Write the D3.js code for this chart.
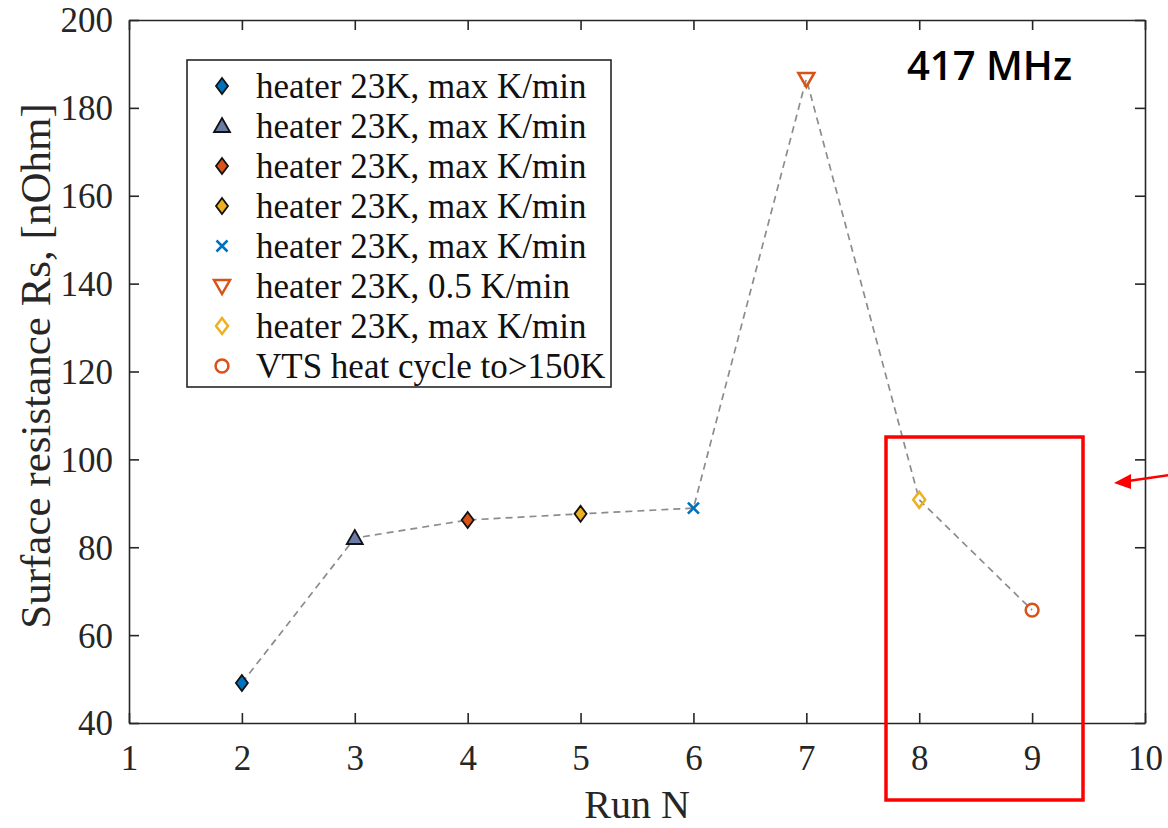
<!DOCTYPE html>
<html>
<head>
<meta charset="utf-8">
<script src="https://cdn.jsdelivr.net/npm/d3@7"></script>
<style>
  html, body { margin: 0; padding: 0; background: #fff; }
  svg { display: block; }
</style>
</head>
<body>
<svg id="chart" width="1168" height="828"></svg>
<script>
// Surface resistance per run
const runs = [2, 3, 4, 5, 6, 7, 8, 9];
const rs = [49.1, 82.1, 86.2, 87.6, 88.9, 186.6, 90.8, 65.7];
const labels = [
  "heater 23K, max K/min",
  "heater 23K, max K/min",
  "heater 23K, max K/min",
  "heater 23K, max K/min",
  "heater 23K, max K/min",
  "heater 23K, 0.5 K/min",
  "heater 23K, max K/min",
  "VTS heat cycle to>150K"
];
// marker style per run: shape, fill, stroke
const shapes = ["diamond", "triangle", "diamond", "diamond", "cross", "triangleDown", "diamond", "circle"];
const fills = ["#0072BD", "#6B7BA6", "#D95319", "#EDB120", "none", "none", "none", "none"];
const strokes = ["#111", "#111", "#111", "#111", "#0072BD", "#D95319", "#EDB120", "#D95319"];
const xTicks = [1, 2, 3, 4, 5, 6, 7, 8, 9, 10];
const yTicks = [40, 60, 80, 100, 120, 140, 160, 180, 200];

const svg = d3.select("#chart");
const L = 129, R = 1145, T = 20, B = 723;
const x = d3.scaleLinear().domain([1, 10]).range([L, R]);
const y = d3.scaleLinear().domain([40, 200]).range([B, T]);
const axisColor = "#262626";
const serif = "'Liberation Serif', 'DejaVu Serif', serif";

// axes with inward ticks on all four sides
const tickLen = 10;
const axBottom = svg.append("g").attr("transform", `translate(0,${B})`)
  .call(d3.axisBottom(x).tickValues(xTicks).tickSizeInner(-tickLen).tickSizeOuter(0).tickPadding(22).tickFormat(d3.format("d")));
const axTop = svg.append("g").attr("transform", `translate(0,${T})`)
  .call(d3.axisTop(x).tickValues(xTicks).tickSizeInner(-tickLen).tickSizeOuter(0).tickFormat(""));
const axLeft = svg.append("g").attr("transform", `translate(${L},0)`)
  .call(d3.axisLeft(y).tickValues(yTicks).tickSizeInner(-tickLen).tickSizeOuter(0).tickPadding(16).tickFormat(d3.format("d")));
const axRight = svg.append("g").attr("transform", `translate(${R},0)`)
  .call(d3.axisRight(y).tickValues(yTicks).tickSizeInner(-tickLen).tickSizeOuter(0).tickFormat(""));
[axBottom, axTop, axLeft, axRight].forEach(g => {
  g.select(".domain").attr("stroke", axisColor).attr("stroke-width", 1.6);
  g.selectAll(".tick line").attr("stroke", axisColor).attr("stroke-width", 1.6);
  g.selectAll(".tick text").attr("fill", "#262626").style("font-family", serif).style("font-size", "35px");
});
axBottom.selectAll(".tick text").attr("dy", "0.71em");
axLeft.selectAll(".tick text").attr("dy", "0.34em");

// axis titles
svg.append("text").attr("x", (L + R) / 2).attr("y", 818)
  .attr("text-anchor", "middle").attr("fill", "#262626")
  .style("font-family", serif).style("font-size", "40px").text("Run N");
svg.append("text").attr("transform", `translate(50,${366}) rotate(-90)`)
  .attr("text-anchor", "middle").attr("fill", "#262626")
  .style("font-family", serif).style("font-size", "43px").text("Surface resistance Rs, [nOhm]");

// dashed connecting line
const pts = runs.map((r, i) => [r, rs[i]]);
svg.append("path").datum(pts)
  .attr("d", d3.line().x(d => x(d[0])).y(d => y(d[1])))
  .attr("fill", "none").attr("stroke", "#8c8c8c").attr("stroke-width", 1.7)
  .attr("stroke-dasharray", "7,5");

// marker path generator
function markerPath(shape) {
  switch (shape) {
    case "diamond": return "M0,-8L6,0L0,8L-6,0Z";
    case "triangle": return "M0,-8L8,6L-8,6Z";
    case "triangleDown": return "M-8,-6L8,-6L0,8Z";
    case "cross": return "M-5.5,-5.5L5.5,5.5M5.5,-5.5L-5.5,5.5";
    case "circle": return d3.symbol(d3.symbolCircle, 130)();
  }
}
function drawMarker(g, i) {
  g.append("path").attr("d", markerPath(shapes[i]))
    .attr("fill", fills[i]).attr("stroke", strokes[i])
    .attr("stroke-width", shapes[i] === "cross" ? 2.6 : (fills[i] === "none" ? 2.5 : 1.8))
    .attr("stroke-linejoin", "miter");
}

runs.forEach((r, i) => {
  const g = svg.append("g").attr("transform", `translate(${x(r)},${y(rs[i])})`);
  drawMarker(g, i);
});

// legend
const lg = svg.append("g");
lg.append("rect").attr("x", 187).attr("y", 60).attr("width", 424).attr("height", 327)
  .attr("fill", "#fff").attr("stroke", axisColor).attr("stroke-width", 1.6);
labels.forEach((t, i) => {
  const cy = 86 + i * 40;
  const g = lg.append("g").attr("transform", `translate(222,${cy})`);
  drawMarker(g, i);
  lg.append("text").attr("x", 256).attr("y", cy).attr("dy", "0.35em")
    .attr("fill", "#111").style("font-family", serif).style("font-size", "35px").text(t);
});

// frequency annotation
svg.append("text").attr("x", 907).attr("y", 80)
  .attr("fill", "#000").style("font-family", "'Open Sans', sans-serif")
  .style("font-size", "40px").style("font-weight", 600).text("417 MHz");

// highlight box around runs 8 and 9
svg.append("rect").attr("x", 886).attr("y", 437).attr("width", 197).attr("height", 363)
  .attr("fill", "none").attr("stroke", "#ff0000").attr("stroke-width", 3.5);

// pointer arrow
svg.append("line").attr("x1", 1170).attr("y1", 475).attr("x2", 1128).attr("y2", 481)
  .attr("stroke", "#ff0000").attr("stroke-width", 2.5);
svg.append("path").attr("d", "M1114,483L1131,474L1131,489Z").attr("fill", "#ff0000");
</script>
</body>
</html>
